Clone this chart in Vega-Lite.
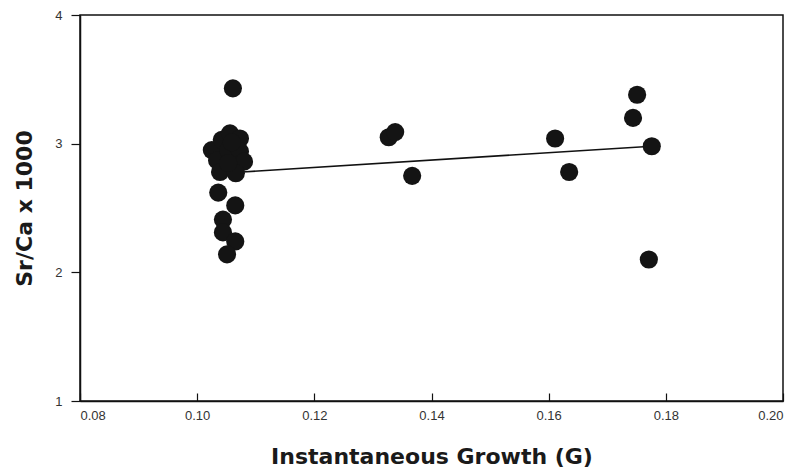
{
  "$schema": "https://vega.github.io/schema/vega-lite/v6.json",
  "width": 703,
  "height": 386,
  "autosize": "none",
  "padding": {"left": 80, "top": 15, "right": 27, "bottom": 70},
  "background": "white",
  "config": {
    "view": {"stroke": "#111111", "strokeWidth": 1.5},
    "font": "Liberation Sans"
  },
  "datasets": {
    "points": [
      {"G": 0.1061, "SrCa": 3.43},
      {"G": 0.1025, "SrCa": 2.95},
      {"G": 0.1042, "SrCa": 3.03},
      {"G": 0.1056, "SrCa": 3.08},
      {"G": 0.1073, "SrCa": 3.04},
      {"G": 0.1034, "SrCa": 2.87},
      {"G": 0.1053, "SrCa": 2.95},
      {"G": 0.1073, "SrCa": 2.94},
      {"G": 0.108, "SrCa": 2.86},
      {"G": 0.1039, "SrCa": 2.78},
      {"G": 0.1066, "SrCa": 2.77},
      {"G": 0.1053, "SrCa": 2.85},
      {"G": 0.1059, "SrCa": 3.01},
      {"G": 0.1036, "SrCa": 2.62},
      {"G": 0.1065, "SrCa": 2.52},
      {"G": 0.1044, "SrCa": 2.41},
      {"G": 0.1044, "SrCa": 2.31},
      {"G": 0.1065, "SrCa": 2.24},
      {"G": 0.1051, "SrCa": 2.14},
      {"G": 0.1327, "SrCa": 3.05},
      {"G": 0.1338, "SrCa": 3.09},
      {"G": 0.1367, "SrCa": 2.75},
      {"G": 0.1611, "SrCa": 3.04},
      {"G": 0.1635, "SrCa": 2.78},
      {"G": 0.1751, "SrCa": 3.38},
      {"G": 0.1744, "SrCa": 3.2},
      {"G": 0.1776, "SrCa": 2.98},
      {"G": 0.1771, "SrCa": 2.1}
    ],
    "fit": [
      {"G": 0.1077, "SrCa": 2.78},
      {"G": 0.1776, "SrCa": 2.98}
    ]
  },
  "layer": [
    {
      "data": {"name": "fit"},
      "mark": {"type": "line", "color": "#111111", "strokeWidth": 1.6},
      "encoding": {
        "x": {"field": "G", "type": "quantitative"},
        "y": {"field": "SrCa", "type": "quantitative"}
      }
    },
    {
      "data": {"name": "points"},
      "mark": {"type": "circle", "size": 330, "color": "#141414", "opacity": 1},
      "encoding": {
        "x": {
          "field": "G",
          "type": "quantitative",
          "scale": {"domain": [0.08, 0.2], "nice": false, "zero": false},
          "axis": {
            "title": "Instantaneous Growth (G)",
            "titleFont": "DejaVu Sans",
            "titleFontSize": 22,
            "titleFontWeight": "bold",
            "titleColor": "#1a1a1a",
            "titlePadding": 24,
            "values": [0.08, 0.1, 0.12, 0.14, 0.16, 0.18, 0.2],
            "format": ".2f",
            "labelFontSize": 13,
            "labelColor": "#333333",
            "labelPadding": 16,
            "tickSize": -8,
            "tickColor": "#111111",
            "domainColor": "#111111",
            "domainWidth": 1.5,
            "tickWidth": 1.2,
            "grid": false
          }
        },
        "y": {
          "field": "SrCa",
          "type": "quantitative",
          "scale": {"domain": [1, 4], "nice": false, "zero": false},
          "axis": {
            "title": "Sr/Ca x 1000",
            "titleFont": "DejaVu Sans",
            "titleFontSize": 22,
            "titleFontWeight": "bold",
            "titleColor": "#1a1a1a",
            "titlePadding": 18,
            "values": [1, 2, 3, 4],
            "format": "d",
            "labelFontSize": 13,
            "labelColor": "#333333",
            "labelPadding": 9,
            "tickSize": 9,
            "tickColor": "#111111",
            "domainColor": "#111111",
            "domainWidth": 1.5,
            "tickWidth": 1.2,
            "grid": false
          }
        }
      }
    }
  ]
}
